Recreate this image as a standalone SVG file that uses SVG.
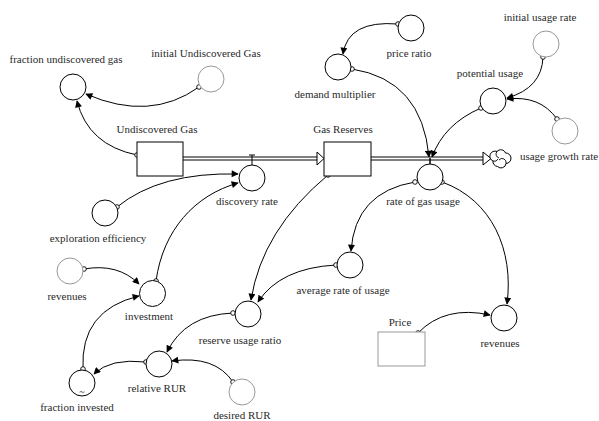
<svg xmlns="http://www.w3.org/2000/svg" width="599" height="421" viewBox="0 0 599 421" font-family="'Liberation Serif', 'Times New Roman', Times, 'DejaVu Serif', serif">
<defs>
<marker id="arr" viewBox="0 0 10 10" refX="9" refY="5" markerWidth="9" markerHeight="7" markerUnits="userSpaceOnUse" orient="auto"><path d="M0,0 L10,5 L0,10 z" fill="#000"/></marker>
<marker id="dot" viewBox="-3 -3 6 6" refX="0" refY="0" markerWidth="6" markerHeight="6" markerUnits="userSpaceOnUse"><circle r="2.3" fill="#fff" stroke="#000" stroke-width="0.9"/></marker>
</defs>
<style>
text{font-family:'Liberation Serif','Times New Roman',Times,serif;font-size:11px;fill:#2a2a2a;text-anchor:middle}
.aux{fill:#fff;stroke:#000;stroke-width:1}
.con{fill:#fff;stroke:#999;stroke-width:1}
.stock{fill:#fff;stroke:#000;stroke-width:1}
.link{fill:none;stroke:#000;stroke-width:1;marker-start:url(#dot);marker-end:url(#arr)}
</style>
<rect width="599" height="421" fill="#fff"/>
<g id="connectors">
<path class="link" d="M199,87 Q150,122 86,94"/>
<path class="link" d="M137,155 Q88,145 77,101"/>
<path class="link" d="M117,207 Q160,172 238,174"/>
<path class="link" d="M156,281 C163,230 195,195 238,183"/>
<path class="link" d="M328,175 Q262,230 251,300"/>
<path class="link" d="M415,182 Q355,192 351,251"/>
<path class="link" d="M336,265 Q280,268 258,302"/>
<path class="link" d="M442,182 C492,200 514,250 507,304"/>
<path class="link" d="M418,333 Q445,305 490,315"/>
<path class="link" d="M233,313 Q185,315 167,352"/>
<path class="link" d="M233,382 Q215,355 172,361"/>
<path class="link" d="M146,362 Q110,358 94,374"/>
<path class="link" d="M83,369 Q80,310 139,296"/>
<path class="link" d="M84,269 Q118,263 139,284"/>
<path class="link" d="M398,24 Q348,20 343,54"/>
<path class="link" d="M352,69 Q422,80 429,157"/>
<path class="link" d="M481,108 Q444,124 432,157"/>
<path class="link" d="M543,57 Q542,88 507,98"/>
<path class="link" d="M557,119 Q540,95 507,99"/>
</g>
<g id="flow-discovery">
<path d="M183,158.5 H318" stroke="#000" stroke-width="4" fill="none"/>
<path d="M183,158.5 H318" stroke="#fff" stroke-width="2" fill="none"/>
<path d="M317,152 L324,158.5 L317,165 Z" fill="#fff" stroke="#000" stroke-width="1"/>
<path d="M249,155 H255 M252,155 V165" stroke="#000" stroke-width="1" fill="none"/>
</g>
<g id="flow-usage">
<path d="M371,158.5 H484" stroke="#000" stroke-width="4" fill="none"/>
<path d="M371,158.5 H484" stroke="#fff" stroke-width="2" fill="none"/>
<path d="M483,152 L491,158.5 L483,165 Z" fill="#fff" stroke="#000" stroke-width="1"/>
<path d="M430,158 V164" stroke="#000" stroke-width="1.5" fill="none"/>
<path d="M493,161 A5,5 0 0,1 497,151.5 A5,5 0 0,1 505.5,153 A5,5 0 0,1 506,163.5 A5,5 0 0,1 497.5,166.5 A5,5 0 0,1 493,161 Z" fill="#fff" stroke="#000" stroke-width="1"/>
<path d="M497,151.5 A4,4 0 0,0 499,158 M506,163.5 A4,4 0 0,0 499,160 M493,161 A4,4 0 0,0 498,159" fill="none" stroke="#000" stroke-width="0.9"/>
</g>
<g id="undiscovered-gas"><rect class="stock" x="137" y="142" width="46" height="34"/><text x="157" y="133">Undiscovered Gas</text></g>
<g id="gas-reserves"><rect class="stock" x="324" y="142" width="47" height="34"/><text x="343" y="133">Gas Reserves</text></g>
<g id="price"><rect x="378" y="332" width="47" height="34" fill="#fff" stroke="#999" stroke-width="1"/><text x="400" y="326">Price</text></g>
<g id="fraction-undiscovered-gas"><circle class="aux" cx="73" cy="87" r="13"/><text x="66" y="63">fraction undiscovered gas</text></g>
<g id="initial-undiscovered-gas"><circle class="con" cx="211" cy="79" r="13"/><text x="206" y="57">initial Undiscovered Gas</text></g>
<g id="exploration-efficiency"><circle class="aux" cx="105" cy="213" r="13"/><text x="98" y="242">exploration efficiency</text></g>
<g id="discovery-rate"><circle class="aux" cx="252" cy="178" r="13"/><text x="247" y="205">discovery rate</text></g>
<g id="revenues-left"><circle class="con" cx="70" cy="271" r="13"/><text x="67" y="300">revenues</text></g>
<g id="investment"><circle class="aux" cx="152.5" cy="293.5" r="13"/><text x="149" y="320">investment</text></g>
<g id="fraction-invested"><circle class="aux" cx="82" cy="383" r="13"/><text x="82" y="395" style="font-size:10px">~</text><text x="77" y="411">fraction invested</text></g>
<g id="relative-rur"><circle class="aux" cx="159" cy="364" r="13"/><text x="157" y="392">relative RUR</text></g>
<g id="desired-rur"><circle class="con" cx="242" cy="392" r="13"/><text x="242" y="419">desired RUR</text></g>
<g id="reserve-usage-ratio"><circle class="aux" cx="248" cy="314" r="13"/><text x="240" y="344">reserve usage ratio</text></g>
<g id="average-rate-of-usage"><circle class="aux" cx="350" cy="265" r="13"/><text x="343" y="294">average rate of usage</text></g>
<g id="revenues-right"><circle class="aux" cx="504" cy="318" r="13"/><text x="500" y="347">revenues</text></g>
<g id="rate-of-gas-usage"><circle class="aux" cx="430" cy="177" r="13"/><text x="423" y="205">rate of gas usage</text></g>
<g id="usage-growth-rate"><circle class="con" cx="565" cy="131" r="13"/><text x="559" y="160">usage growth rate</text></g>
<g id="potential-usage"><circle class="aux" cx="493" cy="101" r="13"/><text x="490" y="77">potential usage</text></g>
<g id="initial-usage-rate"><circle class="con" cx="546" cy="44" r="13"/><text x="540" y="21">initial usage rate</text></g>
<g id="price-ratio"><circle class="aux" cx="411" cy="28" r="13"/><text x="409" y="57">price ratio</text></g>
<g id="demand-multiplier"><circle class="aux" cx="338" cy="67" r="13"/><text x="335" y="98">demand multiplier</text></g>
</svg>
